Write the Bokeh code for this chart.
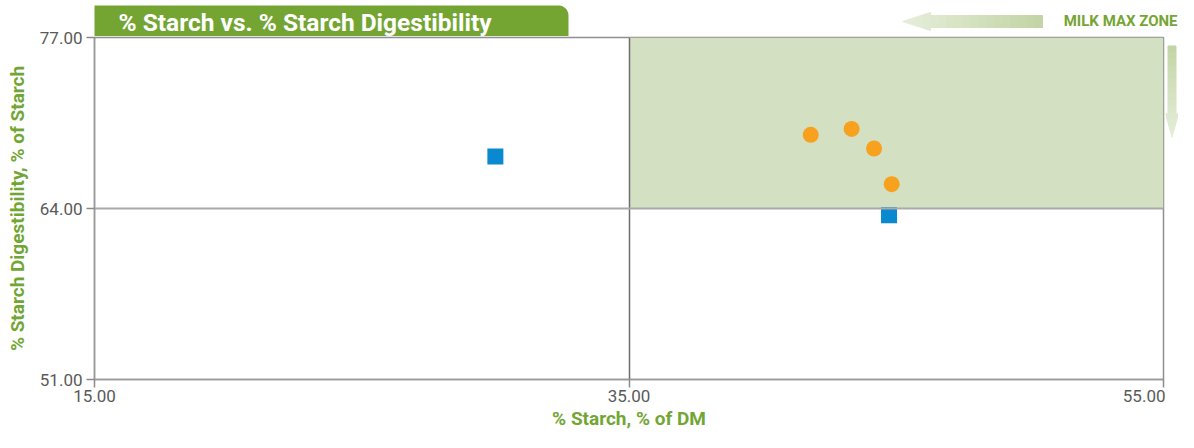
import math
from bokeh.plotting import figure
from bokeh.models import FixedTicker, PrintfTickFormatter, Range1d
from bokeh.layouts import column, row
from bokeh.core.properties import value
from bokeh.embed import file_html
from bokeh.resources import INLINE

# ---------------- data ----------------
sample_x = [41.80, 43.33, 44.17, 44.83]
sample_y = [69.60, 70.05, 68.56, 65.85]
ref_x = [30.00, 44.73]
ref_y = [67.96, 63.48]
zone_x = [35, 55]
zone_y = [64, 77]
x_ticks = [15, 35, 55]
y_ticks = [51, 64, 77]
x_lim = [15, 55]
y_lim = [51, 77]
title_text = "% Starch vs. % Starch Digestibility"
x_label = "% Starch, % of DM"
y_label = "% Starch Digestibility, % of Starch"
zone_label = "MILK MAX ZONE"

# ---------------- layout / style ----------------
TOTAL_W, TOTAL_H = 1178, 432
TOP_H = 36
OVERLAP = 8
SIDE_W = 13
MAIN_W = TOTAL_W - SIDE_W
MAIN_H = TOTAL_H - TOP_H + OVERLAP
MAIN_TOP = TOP_H - OVERLAP          # page y of the main canvas top

GREEN = "#74a533"
ZONE = "#d4e0c2"
BLUE = "#0a88d0"
ORANGE = "#f7a11f"
LIGHT = "#e6eeda"
DARK = "#c2d4a4"


def mix(c1, c2, t):
    a = [int(c1[i:i + 2], 16) for i in (1, 3, 5)]
    b = [int(c2[i:i + 2], 16) for i in (1, 3, 5)]
    return "#" + "".join("%02x" % round(a[k] + (b[k] - a[k]) * t) for k in range(3))


def pixel_fig(w, h):
    f = figure(width=w, height=h, output_backend="svg", toolbar_location=None,
               x_range=Range1d(0, w), y_range=Range1d(h, 0),
               x_axis_location=None, y_axis_location=None,
               min_border=0, min_border_left=0, min_border_right=0,
               min_border_top=0, min_border_bottom=0)
    f.grid.visible = False
    f.outline_line_color = None
    f.background_fill_alpha = 0
    f.border_fill_alpha = 0
    return f


# ---------------- top strip: title tab + MILK MAX ZONE ----------------
tf = pixel_fig(TOTAL_W, TOP_H)
tf.background_fill_color = "white"
tf.background_fill_alpha = 1
tab_l, tab_r, tab_t, tab_b, rad = 94, 568, 5, TOP_H, 10
tab_x = [tab_l, tab_l]
tab_y = [tab_b, tab_t]
for k in range(0, 11):
    a = -math.pi / 2 + (math.pi / 2) * k / 10
    tab_x.append(tab_r - rad + rad * math.cos(a))
    tab_y.append(tab_t + rad + rad * math.sin(a))
tab_x.append(tab_r)
tab_y.append(tab_b)
tf.patch(tab_x, tab_y, fill_color=GREEN, line_color=None)
tf.text(x=[118], y=[21.5], text=[title_text], text_font=value("Roboto"),
        text_font_style="bold", text_font_size="24.5px", text_color="white",
        text_align="left", text_baseline="middle")
tf.text(x=[1177], y=[20.5], text=[zone_label], text_font=value("Roboto"),
        text_font_style="bold", text_font_size="15px", text_color="#76a533",
        text_align="right", text_baseline="middle")

# left-pointing gradient arrow
xs, ys, cs = [], [], []
tip, base, tail, cy, hh, sh = 902, 930, 1042, 21, 9, 6
L = tail - tip
for i in range(4):
    a = tip + (base - tip) * i / 4
    b = tip + (base - tip) * (i + 1) / 4
    ha = hh * (a - tip) / (base - tip)
    hb = hh * (b - tip) / (base - tip)
    xs.append([a, b, b, a])
    ys.append([cy - ha, cy - hb, cy + hb, cy + ha])
    cs.append(mix(LIGHT, DARK, ((a + b) / 2 - tip) / L))
for i in range(14):
    a = base + (tail - base) * i / 14
    b = base + (tail - base) * (i + 1) / 14
    xs.append([a, b, b, a])
    ys.append([cy - sh, cy - sh, cy + sh, cy + sh])
    cs.append(mix(LIGHT, DARK, ((a + b) / 2 - tip) / L))
tf.patches(xs, ys, fill_color=cs, line_color=cs, line_width=1)

# ---------------- side strip: down arrow ----------------
sf = pixel_fig(SIDE_W, MAIN_H)
xs, ys, cs = [], [], []
cx, top_y, hb_y, tip_y, hw, sw = SIDE_W / 2, 38 - MAIN_TOP, 118 - MAIN_TOP, 146 - MAIN_TOP, 6.5, 4
L2 = tip_y - top_y
for i in range(10):
    a = top_y + (hb_y - top_y) * i / 10
    b = top_y + (hb_y - top_y) * (i + 1) / 10
    xs.append([cx - sw, cx + sw, cx + sw, cx - sw])
    ys.append([a, a, b, b])
    cs.append(mix(DARK, LIGHT, ((a + b) / 2 - top_y) / L2))
for i in range(4):
    a = hb_y + (tip_y - hb_y) * i / 4
    b = hb_y + (tip_y - hb_y) * (i + 1) / 4
    wa = hw * (tip_y - a) / (tip_y - hb_y)
    wb = hw * (tip_y - b) / (tip_y - hb_y)
    xs.append([cx - wa, cx + wa, cx + wb, cx - wb])
    ys.append([a, a, b, b])
    cs.append(mix(DARK, LIGHT, ((a + b) / 2 - top_y) / L2))
sf.patches(xs, ys, fill_color=cs, line_color=cs, line_width=1)

# ---------------- main chart ----------------
p = figure(width=MAIN_W, height=MAIN_H, output_backend="svg", toolbar_location=None,
           x_range=Range1d(*x_lim), y_range=Range1d(*y_lim),
           min_border_left=94, min_border_right=2,
           min_border_top=37 - MAIN_TOP, min_border_bottom=51,
           x_axis_label=x_label, y_axis_label=y_label)
p.background_fill_color = "white"
p.border_fill_alpha = 0
p.outline_line_color = "#8f8f8f"
p.outline_line_width = 1.5

p.quad(left=[zone_x[0]], right=[zone_x[1]], bottom=[zone_y[0]], top=[zone_y[1]],
       fill_color=ZONE, line_color=None, level="underlay")

p.xgrid.ticker = FixedTicker(ticks=[zone_x[0]], minor_ticks=[])
p.ygrid.ticker = FixedTicker(ticks=[zone_y[0]], minor_ticks=[])
p.xgrid.grid_line_color = "#6e6e6e"
p.xgrid.grid_line_width = 1.5
p.ygrid.grid_line_color = "#a9a9a9"
p.ygrid.grid_line_width = 2
p.xgrid.level = "glyph"
p.ygrid.level = "glyph"

p.scatter(ref_x, ref_y, marker="square", size=16, fill_color=BLUE, line_color=None)
p.scatter(sample_x, sample_y, marker="circle", size=16, fill_color=ORANGE, line_color=None)

p.xaxis.ticker = FixedTicker(ticks=x_ticks, minor_ticks=[])
p.yaxis.ticker = FixedTicker(ticks=y_ticks, minor_ticks=[])
for ax in (p.xaxis[0], p.yaxis[0]):
    ax.formatter = PrintfTickFormatter(format="%.2f")
    ax.axis_line_color = "#9a9a9a"
    ax.axis_line_width = 1.5
    ax.major_tick_line_color = "#8a8a8a"
    ax.major_tick_line_width = 1.5
    ax.major_tick_out = 8
    ax.major_tick_in = 0
    ax.minor_tick_out = 0
    ax.minor_tick_in = 0
    ax.major_label_text_font = "Roboto"
    ax.major_label_text_font_size = "17px"
    ax.major_label_text_color = "#5a5a5a"
    ax.axis_label_text_font = "Roboto"
    ax.axis_label_text_font_style = "bold"
    ax.axis_label_text_color = "#72a634"
    ax.axis_label_text_font_size = "19px"
p.yaxis.major_label_standoff = 4
p.yaxis.axis_label_standoff = 8
p.xaxis.major_label_standoff = 2
p.xaxis.axis_label_standoff = 2

layout = column(tf, row(p, sf, margin=(-OVERLAP, 0, 0, 0)))
open("out.html", "w").write(file_html(layout, INLINE))
